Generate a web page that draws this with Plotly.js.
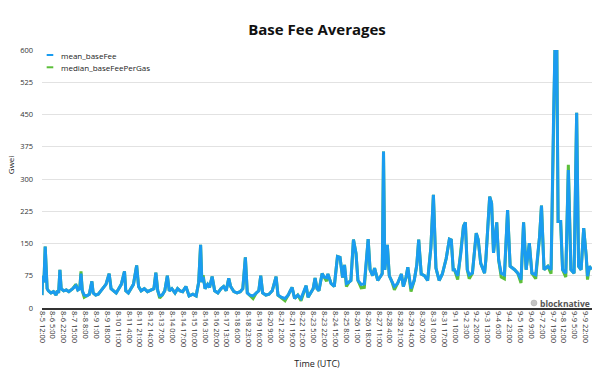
<!DOCTYPE html>
<html>
<head>
<meta charset="utf-8">
<script src="https://cdn.plot.ly/plotly-3.0.1.min.js"></script>
<style>html,body{margin:0;padding:0;background:#fff;}#chart{width:600px;height:375px;}</style>
</head>
<body>
<div id="chart"></div>
<script>
// hours since 2021-08-05 12:00 UTC
var hours = [0,1,3,5,8,10,14,18,22,24,26,28,30,34,38,42,48,53,56,59,61,63,66,70,74,78,80,84,88,92,96,100,105,108,112,116,120,124,129,131,135,138,143,148,151,155,160,165,170,175,178,181,184,188,192,196,199,203,208,212,216,220,225,230,236,241,245,248,250,252,255,259,262,266,270,275,280,284,288,292,295,300,305,310,314,318,321,325,330,335,339,342,345,350,355,360,366,369,374,380,385,388,391,395,400,405,409,413,416,420,424,427,430,433,438,441,445,447,452,457,462,466,470,473,476,480,483,487,491,494,499,504,510,513,517,520,525,530,532,534,536,540,543,547,551,556,562,565,569,572,577,582,586,589,593,598,603,608,612,616,621,626,632,637,640,643,645,650,655,659,662,665,668,673,679,682,686,692,694,700,703,706,711,714,718,723,728,732,739,744,749,753,757,762,766,772,778,781,785,791,796,800,802,805,807,811,814,819,823,827,832,836,839,843,847,851,853,856,859];

var meanBaseFee = [30,75,60,143,45,40,35,38,30,40,35,89,45,40,42,38,45,52,42,45,80,40,30,28,32,62,35,30,32,40,48,55,80,45,40,35,45,55,85,40,35,42,55,99,50,40,45,38,42,45,82,40,28,30,40,75,40,45,35,45,40,38,50,28,32,28,60,147,60,72,45,55,48,73,40,35,45,50,40,69,50,38,35,38,45,118,35,30,28,35,40,75,35,30,32,40,73,30,25,22,30,40,48,22,30,22,35,52,25,35,45,70,45,40,80,72,70,79,57,50,120,118,71,100,57,60,64,159,127,64,55,56,160,89,75,93,64,75,80,364,89,147,75,62,50,57,79,50,70,95,45,64,100,159,79,75,64,140,263,93,64,79,115,160,158,89,89,75,128,190,199,89,77,81,174,159,104,81,112,259,244,128,199,112,81,77,228,97,89,81,66,199,89,151,81,77,166,238,89,97,89,454,600,600,201,201,89,81,321,89,81,454,97,89,186,120,74,97,89];

var medianBaseFeePerGas = [30,75,60,143,45,40,35,38,30,40,35,89,45,40,42,38,45,55,42,45,85,40,25,28,32,62,35,30,32,40,48,55,80,45,40,35,45,55,85,40,35,42,55,99,50,40,45,38,42,45,82,40,23,30,40,75,40,45,35,45,40,38,50,28,32,28,60,147,60,76,45,55,48,73,40,35,45,50,40,69,50,38,35,38,45,118,35,30,22,35,40,75,35,30,32,40,73,30,25,17,30,40,48,22,30,17,35,52,25,35,45,70,45,40,80,72,62,79,57,50,120,118,71,100,50,60,64,159,127,64,47,48,160,89,75,93,64,75,80,364,89,147,75,62,42,57,79,50,70,95,38,64,100,159,79,75,64,140,263,93,64,79,115,160,158,89,89,66,128,190,199,89,68,81,174,159,104,81,112,259,244,128,199,112,72,68,228,97,89,81,58,199,89,151,81,68,166,238,89,97,80,454,600,600,201,201,89,72,333,89,81,454,97,89,186,120,66,97,89];

var tickHours = [0,17,34,51,68,85,102,119,136,153,170,187,204,221,238,255,272,289,306,323,340,357,374,391,408,425,442,459,476,493,510,527,544,561,578,595,612,629,646,663,680,697,714,731,748,765,782,799,816,833,850];
var tickLabels = ["8-5 12:00","8-6 5:00","8-6 22:00","8-7 15:00","8-8 8:00","8-9 1:00","8-9 18:00","8-10 11:00","8-11 4:00","8-11 21:00","8-12 14:00","8-13 7:00","8-14 0:00","8-14 17:00","8-15 10:00","8-16 3:00","8-16 20:00","8-17 13:00","8-18 6:00","8-18 23:00","8-19 16:00","8-20 9:00","8-21 2:00","8-21 19:00","8-22 12:00","8-23 5:00","8-23 22:00","8-24 15:00","8-25 8:00","8-26 1:00","8-26 18:00","8-27 11:00","8-28 4:00","8-28 21:00","8-29 14:00","8-30 7:00","8-31 0:00","8-31 17:00","9-1 10:00","9-2 3:00","9-2 20:00","9-3 13:00","9-4 6:00","9-4 23:00","9-5 16:00","9-6 9:00","9-7 2:00","9-7 19:00","9-8 12:00","9-9 5:00","9-9 22:00"];
var yTicks = [0,75,150,225,300,375,450,525,600];
var seriesNames = ["mean_baseFee","median_baseFeePerGas"];
var seriesColors = ["#1a9cf0","#5cbf3a"];

var traces = [
  {x: hours, y: medianBaseFeePerGas, name: seriesNames[1], type: 'scatter', mode: 'lines',
   line: {color: seriesColors[1], width: 3}, showlegend: false},
  {x: hours, y: meanBaseFee, name: seriesNames[0], type: 'scatter', mode: 'lines',
   line: {color: seriesColors[0], width: 3}, showlegend: false}
];

var layout = {
  width: 600, height: 375,
  margin: {l: 42, r: 8, t: 50, b: 67},
  paper_bgcolor: '#fff', plot_bgcolor: '#fff',
  font: {family: 'Open Sans, sans-serif', color: '#333', size: 8},
  showlegend: false,
  title: {text: 'Base Fee Averages', font: {size: 15, weight: 'bold', color: '#111'},
          x: 0.5, xref: 'paper', xanchor: 'center', y: 0.92, yref: 'container', yanchor: 'middle'},
  xaxis: {range: [0, 860], tickmode: 'array', tickvals: tickHours, ticktext: tickLabels,
          tickangle: 90, tickfont: {size: 7.5, color: '#333'}, showgrid: false, zeroline: false,
          showline: true, linecolor: '#333', linewidth: 1.5, ticks: '', automargin: false,
          title: {text: 'Time (UTC)', font: {size: 9, color: '#222'}, standoff: 14}},
  yaxis: {range: [0, 600], tickmode: 'array', tickvals: yTicks, tickfont: {size: 7.5, color: '#333'},
          gridcolor: '#e2e2e2', gridwidth: 1, zeroline: false, showline: false, ticks: '',
          ticklabelstandoff: 8, automargin: false},
  shapes: [
    {type: 'line', xref: 'paper', yref: 'paper', x0: 0.0085, x1: 0.0205, y0: 0.9806, y1: 0.9806,
     line: {color: seriesColors[0], width: 2}},
    {type: 'line', xref: 'paper', yref: 'paper', x0: 0.0085, x1: 0.0205, y0: 0.933, y1: 0.933,
     line: {color: seriesColors[1], width: 2}},
    {type: 'circle', xref: 'paper', yref: 'paper', x0: 0.889, x1: 0.900, y0: 0.008, y1: 0.031,
     fillcolor: '#c4c4c4', line: {color: '#aaa', width: 0.5}}
  ],
  annotations: [
    {text: seriesNames[0], xref: 'paper', yref: 'paper', x: 0.0304, y: 0.9806, xanchor: 'left', yanchor: 'middle',
     showarrow: false, font: {size: 8, color: '#222'}},
    {text: seriesNames[1], xref: 'paper', yref: 'paper', x: 0.0304, y: 0.933, xanchor: 'left', yanchor: 'middle',
     showarrow: false, font: {size: 8, color: '#222'}},
    {text: 'Gwei', xref: 'paper', yref: 'paper', x: -0.058, y: 0.554, xanchor: 'center', yanchor: 'middle',
     textangle: -90, showarrow: false, font: {size: 8, color: '#222'}},
    {text: 'blocknative', xref: 'paper', yref: 'paper', x: 1.0, y: 0.019, xanchor: 'right', yanchor: 'middle',
     showarrow: false, font: {size: 8.5, color: '#555', weight: 'bold'}}
  ]
};

Plotly.newPlot('chart', traces, layout, {displayModeBar: false, staticPlot: true});
</script>
</body>
</html>
